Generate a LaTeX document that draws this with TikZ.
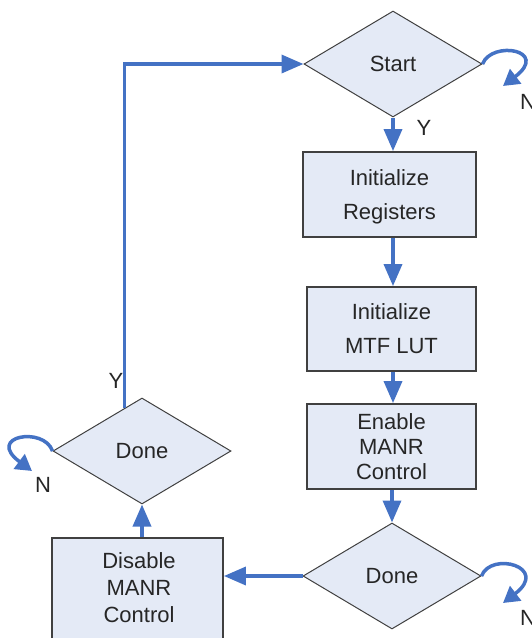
\documentclass[tikz,border=0pt]{standalone}
\usepackage{fontspec}
\setmainfont{Liberation Sans}
\usetikzlibrary{shapes.geometric,arrows.meta}
\definecolor{flowblue}{RGB}{68,114,196}
\definecolor{boxfill}{RGB}{228,234,246}
\definecolor{edgegray}{RGB}{64,64,64}
\definecolor{txt}{RGB}{38,38,38}
\begin{document}
\begin{tikzpicture}[x=1pt,y=-1pt,
  every node/.style={text=txt, font=\fontsize{22}{25}\selectfont},
  procbox/.style={draw=edgegray, line width=1.8pt, fill=boxfill, inner sep=0pt, align=center},
  decision/.style={diamond, draw=edgegray, line width=1pt, fill=boxfill, inner sep=0pt, minimum width=178pt, minimum height=106pt},
  arr/.style={draw=flowblue, line width=3.5pt, -{Triangle[length=22pt,width=18pt]}},
  loopar/.style={draw=flowblue, line width=3.5pt, -{Triangle[length=16pt,width=18pt]}},
  lbl/.style={inner sep=0pt}]
\path[use as bounding box] (0,0) rectangle (532,638);

% decisions
\node[decision] (start) at (393,64) {Start};
\node[decision] (done1) at (142,451) {Done};
\node[decision] (done2) at (392,576) {Done};

% process boxes
\node[procbox, minimum width=173pt, minimum height=85pt, text depth=0pt,
      font=\fontsize{22}{34}\selectfont] (reg) at (389.5,194.5) {Initialize\\Registers};
\node[procbox, minimum width=169pt, minimum height=84pt,
      font=\fontsize{22}{34}\selectfont] (mtf) at (391.5,329) {Initialize\\MTF LUT};
\node[procbox, minimum width=169pt, minimum height=85pt] (ena) at (391.5,446.5) {Enable\\MANR\\Control};
\node[procbox, minimum width=171pt, minimum height=124pt] (dis) at (137.5,600) {};
\node[align=center, inner sep=0pt, font=\fontsize{22}{27}\selectfont] (distext) at (139,588) {Disable\\MANR\\Control};

% straight connectors
\draw[arr] (start.south) -- (start.south |- reg.north);
\draw[arr] (reg.south -| start.south) -- (start.south |- mtf.north);
\draw[arr] (mtf.south -| start.south) -- (start.south |- ena.north);
\draw[arr] (ena.south -| done2.north) -- (done2.north);
\draw[arr] (done2.west) -- (dis.east |- done2.west);
\draw[arr] (dis.north -| done1.south) -- (done1.south);
\draw[arr] (done1.112.7) |- (start.west);

% self loops
\coordinate (sloop) at (503,86);
\coordinate (d2loop) at (503,603);
\coordinate (d1loop) at (32,471);
\draw[loopar] (start.east) .. controls (492,40) and (550,50) .. (sloop);
\draw[loopar] (done2.east) .. controls (491,551) and (550,567) .. (d2loop);
\draw[loopar] (done1.west) .. controls (44,426) and (-15,436) .. (d1loop);

% labels
\node[lbl] (ys) at (424,128) {Y};
\node[lbl] (yd1) at (116,381) {Y};
\node[lbl, anchor=west] (ns) at (520,102) {N};
\node[lbl, anchor=west] (nd2) at (520,618) {N};
\node[lbl] (nd1) at (43,485) {N};
\end{tikzpicture}
\end{document}
